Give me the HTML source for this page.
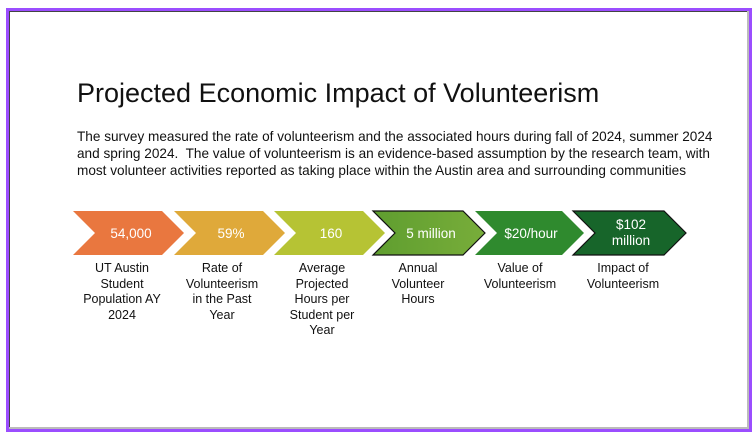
<!DOCTYPE html>
<html><head><style>
body{margin:0;width:756px;height:441px;background:#fff;position:relative;overflow:hidden;font-family:"Liberation Sans",sans-serif;}
.frame{position:absolute;left:6px;top:8px;width:740px;height:418px;border:3px solid #9b4dff;box-shadow:inset -2px -2px 0 #bbb, inset 1px 1px 0 #444;}
h1{position:absolute;left:77px;top:78px;margin:0;font-weight:normal;font-size:27px;color:#111;}
p{position:absolute;left:77px;top:128px;margin:0;width:680px;font-size:13.6px;line-height:17px;color:#111;white-space:nowrap;}
.lab{position:absolute;top:261px;width:110px;text-align:center;font-size:12.5px;line-height:15.5px;color:#111;}
</style></head><body>
<div class="frame"></div>
<h1>Projected Economic Impact of Volunteerism</h1>
<p>The survey measured the rate of volunteerism and the associated hours during fall of 2024, summer 2024<br>and spring 2024.&nbsp; The value of volunteerism is an evidence-based assumption by the research team, with<br>most volunteer activities reported as taking place within the Austin area and surrounding communities</p>
<svg width="756" height="441" style="position:absolute;left:0;top:0" font-family="Liberation Sans, sans-serif" font-size="13.5" fill="#fff" text-anchor="middle">
<defs><linearGradient id="g4" x1="0" x2="1"><stop offset="0" stop-color="#5f9e2f"/><stop offset="1" stop-color="#78ad3a"/></linearGradient></defs>
<polygon points="73,211 162,211 184,233 162,255 73,255 95,233" fill="#e9773f"/>
<polygon points="174,211 263,211 285,233 263,255 174,255 196,233" fill="#dfa93a"/>
<polygon points="274,211 363,211 385,233 363,255 274,255 296,233" fill="#b6c334"/>
<polygon points="373,211 463,211 485,233 463,255 373,255 395,233" fill="url(#g4)" stroke="#111" stroke-width="1.2"/>
<polygon points="475,211 562,211 584,233 562,255 475,255 497,233" fill="#2f8a2e"/>
<polygon points="573,211 664,211 686,233 664,255 573,255 595,233" fill="#17652a" stroke="#111" stroke-width="1.2"/>
<text x="131" y="238">54,000</text>
<text x="231" y="238">59%</text>
<text x="331" y="238">160</text>
<text x="431" y="238">5 million</text>
<text x="531" y="238">$20/hour</text>
<text x="631" y="229">$102</text>
<text x="631" y="245">million</text>
</svg>
<div class="lab" style="left:67px">UT Austin<br>Student<br>Population AY<br>2024</div>
<div class="lab" style="left:167px">Rate of<br>Volunteerism<br>in the Past<br>Year</div>
<div class="lab" style="left:267px">Average<br>Projected<br>Hours per<br>Student per<br>Year</div>
<div class="lab" style="left:363px">Annual<br>Volunteer<br>Hours</div>
<div class="lab" style="left:465px">Value of<br>Volunteerism</div>
<div class="lab" style="left:568px">Impact of<br>Volunteerism</div>
</body></html>
